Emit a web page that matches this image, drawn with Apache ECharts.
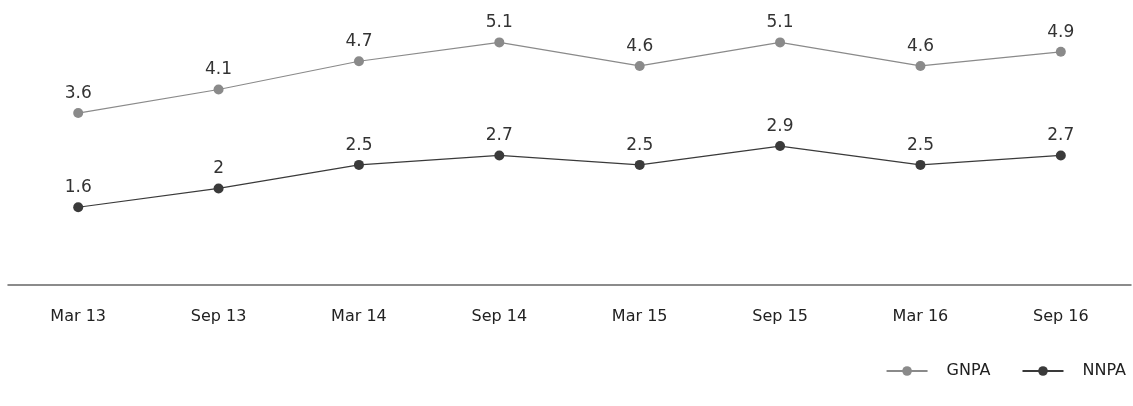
<!DOCTYPE html>
<html>
<head>
<meta charset="utf-8">
<script src="https://cdn.jsdelivr.net/npm/echarts@6/dist/echarts.min.js"></script>
<style>
  html, body { margin: 0; padding: 0; background: #fff; }
  #chart { width: 1133px; height: 406px; }
</style>
</head>
<body>
<div id="chart"></div>
<script>
const periods = ['Mar 13', 'Sep 13', 'Mar 14', 'Sep 14', 'Mar 15', 'Sep 15', 'Mar 16', 'Sep 16'];
const gnpa = [3.6, 4.1, 4.7, 5.1, 4.6, 5.1, 4.6, 4.9];
const nnpa = [1.6, 2, 2.5, 2.7, 2.5, 2.9, 2.5, 2.7];

const font = '"DejaVu Sans", "Liberation Sans", sans-serif';
const chart = echarts.init(document.getElementById('chart'));

chart.setOption({
  animation: false,
  textStyle: { fontFamily: font },
  grid: { left: 8, right: 2, top: -1, bottom: 121, containLabel: false },
  legend: {
    right: 2,
    bottom: 22,
    itemWidth: 41,
    itemHeight: 12,
    itemGap: 31,
    textStyle: { fontSize: 16, color: '#222', fontFamily: font, padding: [0, 0, 0, 14] },
    data: ['GNPA', 'NNPA']
  },
  xAxis: {
    type: 'category',
    data: periods,
    boundaryGap: true,
    axisLine: { onZero: false, lineStyle: { color: '#666', width: 1.5 } },
    axisTick: { show: false },
    axisLabel: { margin: 24, fontSize: 16, color: '#222', fontFamily: font }
  },
  yAxis: {
    type: 'value',
    min: -0.05,
    max: 6,
    show: false,
    splitLine: { show: false }
  },
  series: [
    { name: 'GNPA', data: gnpa, color: '#8a8a8a' },
    { name: 'NNPA', data: nnpa, color: '#3a3a3a' }
  ].map(s => ({
    ...s,
    type: 'line',
    symbol: 'circle',
    symbolSize: 10,
    lineStyle: { width: 1.2, color: s.color },
    itemStyle: { color: s.color },
    label: {
      show: true,
      position: 'top',
      distance: 6,
      fontSize: 17,
      color: '#333',
      fontFamily: font
    }
  }))
});
</script>
</body>
</html>
